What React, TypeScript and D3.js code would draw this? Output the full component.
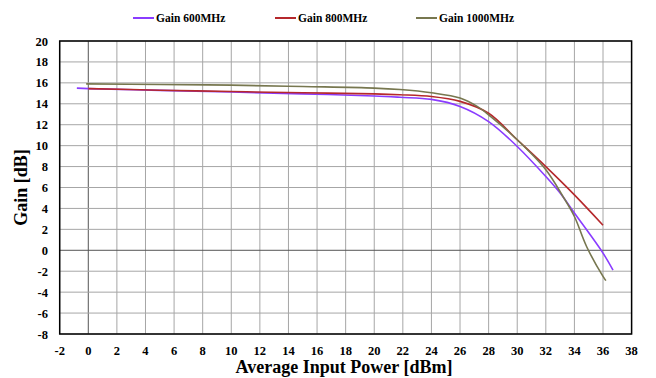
import React from "react";
import * as d3 from "d3";

const xTicks = [-2, 0, 2, 4, 6, 8, 10, 12, 14, 16, 18, 20, 22, 24, 26, 28, 30, 32, 34, 36, 38];
const yTicks = [-8, -6, -4, -2, 0, 2, 4, 6, 8, 10, 12, 14, 16, 18, 20];

const gain600X = [-0.8, 0, 5, 10, 15, 20, 21.8, 24, 26, 28, 30, 32, 33, 34, 36, 36.7];
const gain600Y = [15.5, 15.45, 15.28, 15.12, 14.95, 14.75, 14.62, 14.42, 13.75, 12.3, 9.92, 7.05, 5.47, 3.56, -0.27, -1.9];

const gain800X = [0, 5, 10, 15, 20, 21.8, 24, 26, 28, 30, 32, 34, 36];
const gain800Y = [15.45, 15.3, 15.17, 15.05, 14.95, 14.87, 14.7, 14.23, 13.1, 10.56, 8.0, 5.3, 2.4];

const gain1000X = [-0.15, 5, 10, 15, 20, 21.8, 24, 26, 27.2, 28, 30, 32, 33.2, 34, 34.85, 36, 36.2];
const gain1000Y = [15.9, 15.85, 15.78, 15.65, 15.5, 15.36, 15.05, 14.55, 13.75, 12.95, 10.56, 7.7, 5.14, 3.23, 0.36, -2.5, -2.9];

const seriesNames = ["Gain 600MHz", "Gain 800MHz", "Gain 1000MHz"];
const seriesColors = ["#8a3cff", "#b5282c", "#77774f"];

const W = 656;
const H = 378;
const M = { left: 59.7, right: 631.6, top: 41, bottom: 334 };

const font = "Liberation Serif, DejaVu Serif, serif";

export default function App() {
  const x = d3.scaleLinear().domain([-2, 38]).range([M.left, M.right]);
  const y = d3.scaleLinear().domain([-8, 20]).range([M.bottom, M.top]);
  const line = d3
    .line<[number, number]>()
    .x((d) => x(d[0]))
    .y((d) => y(d[1]))
    .curve(d3.curveCatmullRom.alpha(0.5));

  const series = [
    gain600X.map((v, i) => [v, gain600Y[i]] as [number, number]),
    gain800X.map((v, i) => [v, gain800Y[i]] as [number, number]),
    gain1000X.map((v, i) => [v, gain1000Y[i]] as [number, number]),
  ];

  const legendX = [133, 275, 416];
  const ts = { fontFamily: font, fontWeight: 700 as const };

  return (
    <svg
      width={W}
      height={H}
      style={{ position: "absolute", left: 0, top: 0, background: "#fff" }}
    >
      {xTicks.map((t) => (
        <line
          key={"gx" + t}
          x1={x(t)}
          x2={x(t)}
          y1={M.top}
          y2={M.bottom}
          stroke={t === 0 ? "#555" : "#a6a6a6"}
          strokeWidth={1}
        />
      ))}
      {yTicks.map((t) => (
        <line
          key={"gy" + t}
          x1={M.left}
          x2={M.right}
          y1={y(t)}
          y2={y(t)}
          stroke={t === 0 ? "#555" : "#a6a6a6"}
          strokeWidth={1}
        />
      ))}
      <rect
        x={M.left}
        y={M.top}
        width={M.right - M.left}
        height={M.bottom - M.top}
        fill="none"
        stroke="#000"
        strokeWidth={1.5}
      />
      {series.map((s, i) => (
        <path key={i} d={line(s) || ""} fill="none" stroke={seriesColors[i]} strokeWidth={1.6} />
      ))}
      {xTicks.map((t) => (
        <text key={"tx" + t} x={x(t)} y={355} fontSize={12.5} textAnchor="middle" fill="#000" style={ts}>
          {t}
        </text>
      ))}
      {yTicks.map((t) => (
        <text key={"ty" + t} x={48} y={y(t) + 4.5} fontSize={12.5} textAnchor="end" fill="#000" style={ts}>
          {t}
        </text>
      ))}
      <text x={344} y={373} fontSize={18} textAnchor="middle" fill="#000" style={ts}>
        Average Input Power [dBm]
      </text>
      <text
        transform={`translate(27, ${(M.top + M.bottom) / 2}) rotate(-90)`}
        fontSize={18}
        textAnchor="middle"
        fill="#000"
        style={ts}
      >
        Gain [dB]
      </text>
      {seriesNames.map((n, i) => (
        <g key={n}>
          <line
            x1={legendX[i]}
            x2={legendX[i] + 21}
            y1={18}
            y2={18}
            stroke={seriesColors[i]}
            strokeWidth={2}
          />
          <text x={legendX[i] + 23} y={22} fontSize={11.5} fill="#000" style={ts}>
            {n}
          </text>
        </g>
      ))}
    </svg>
  );
}
